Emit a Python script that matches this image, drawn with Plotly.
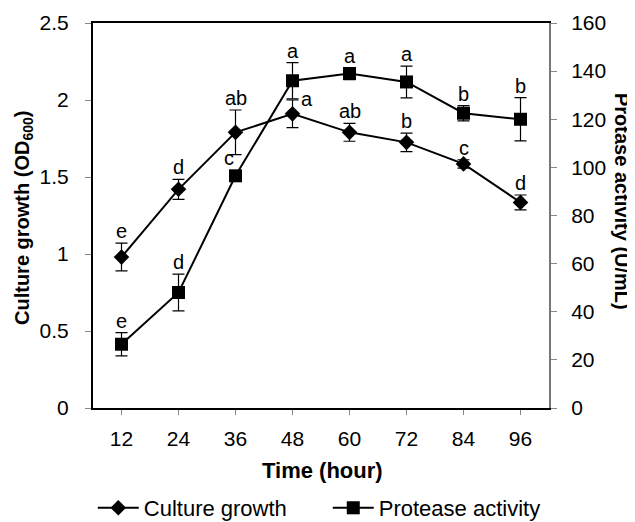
import plotly.graph_objects as go

time_h = [12, 24, 36, 48, 60, 72, 84, 96]
growth = [0.98, 1.42, 1.79, 1.91, 1.79, 1.725, 1.585, 1.335]
growth_err = [0.09, 0.065, 0.145, 0.09, 0.058, 0.06, 0.027, 0.048]
growth_letters = ["e", "d", "ab", "a", "ab", "b", "c", "d"]
protease = [26.5, 48.0, 96.5, 136.0, 139.0, 135.5, 122.5, 120.0]
protease_err = [4.8, 7.6, 1.5, 7.5, 2.5, 6.6, 3.2, 9.0]
protease_letters = ["e", "d", "c", "a", "a", "a", "b", "b"]
y1_ticks = [0, 0.5, 1, 1.5, 2, 2.5]
y1_labels = ["0", "0.5", "1", "1.5", "2", "2.5"]
y2_ticks = [0, 20, 40, 60, 80, 100, 120, 140, 160]

FONT = "Arial, Liberation Sans, sans-serif"
TFS = 21

# the page body has an 8px margin; size the figure so it reaches the window edge
OFF = 8
W, H = 635 - OFF, 522 - OFF
L, T = 93 - OFF, 23 - OFF
pw, ph = 456, 385
R, B = W - L - pw, H - T - ph

def px_x(x):  # page pixel -> paper
    return (x - OFF - L) / pw

def px_y(y):
    return (T + ph - (y - OFF)) / ph

fig = go.Figure()
fig.add_trace(go.Scatter(
    x=time_h, y=growth, name="Culture growth", mode="lines+markers",
    line=dict(color="black", width=2),
    marker=dict(symbol="diamond", size=12, color="black"),
    error_y=dict(type="data", array=growth_err, color="black", thickness=1.2, width=6),
    yaxis="y"))
fig.add_trace(go.Scatter(
    x=time_h, y=protease, name="Protease activity", mode="lines+markers",
    line=dict(color="black", width=2),
    marker=dict(symbol="square", size=13, color="black"),
    error_y=dict(type="data", array=protease_err, color="black", thickness=1.2, width=6),
    yaxis="y2"))

ann = []
for i, t in enumerate(time_h):
    if t == 48:
        ann.append(dict(x=t, y=growth[i] + growth_err[i], xref="x", yref="y",
                        text=growth_letters[i], xanchor="left",
                        yanchor="middle", xshift=6, yshift=1))
    else:
        ann.append(dict(x=t, y=growth[i] + growth_err[i], xref="x", yref="y",
                        text=growth_letters[i], xanchor="center",
                        yanchor="bottom", yshift=-1))
    if t == 36:
        ann.append(dict(x=t, y=protease[i], xref="x", yref="y2",
                        text=protease_letters[i], xanchor="center",
                        yanchor="bottom", xshift=-7, yshift=5))
    else:
        ann.append(dict(x=t, y=protease[i] + protease_err[i], xref="x", yref="y2",
                        text=protease_letters[i], xanchor="center",
                        yanchor="bottom", yshift=-1))
for a in ann:
    a["showarrow"] = False
    a["font"] = dict(family=FONT, size=20, color="black")

ann.append(dict(x=px_x(23), y=px_y(218), xref="paper", yref="paper",
                text="<b>Culture growth (OD<sub>600</sub>)</b>", xanchor="center", yanchor="middle",
                showarrow=False, textangle=-90, font=dict(family=FONT, size=20, color="black")))
ann.append(dict(x=px_x(622), y=px_y(201), xref="paper", yref="paper",
                text="<b>Protase activity (U/mL)</b>", xanchor="center", yanchor="middle",
                showarrow=False, textangle=90, font=dict(family=FONT, size=20, color="black")))
ann.append(dict(x=px_x(322), y=px_y(470), xref="paper", yref="paper",
                text="<b>Time (hour)</b>", xanchor="center", yanchor="middle",
                showarrow=False, font=dict(family=FONT, size=22, color="black")))

fig.update_layout(
    width=W, height=H,
    margin=dict(l=L, r=R, t=T, b=B, autoexpand=False),
    paper_bgcolor="white", plot_bgcolor="white",
    font=dict(family=FONT, size=TFS, color="black"),
    showlegend=True,
    legend=dict(orientation="h", x=-0.0005, xanchor="left", y=px_y(508), yanchor="middle",
                font=dict(family=FONT, size=22, color="black"), itemwidth=41,
                entrywidth=179, entrywidthmode="pixels", tracegroupgap=0),
    xaxis=dict(range=[6, 102], tickvals=time_h, ticktext=[str(t) for t in time_h],
               showgrid=False, zeroline=False, showline=True, linecolor="black", linewidth=2,
               mirror=True, ticks="outside", ticklen=5, tickcolor="#888888", tickwidth=1,
               ticklabelstandoff=6, tickfont=dict(size=TFS)),
    yaxis=dict(range=[0, 2.5], tickvals=y1_ticks, ticktext=y1_labels, showgrid=False,
               zeroline=False, showline=True, linecolor="black", linewidth=2,
               ticks="outside", ticklen=6, tickcolor="#888888", tickwidth=1,
               ticklabelstandoff=12, tickfont=dict(size=TFS)),
    yaxis2=dict(range=[0, 160], tickvals=y2_ticks, overlaying="y", side="right",
                showgrid=False, zeroline=False, showline=True, linecolor="#777777", linewidth=2,
                ticks="outside", ticklen=6, tickcolor="#888888", tickwidth=1,
                ticklabelstandoff=10, tickfont=dict(size=TFS)),
    annotations=ann,
)

fig.write_html("out.html")
